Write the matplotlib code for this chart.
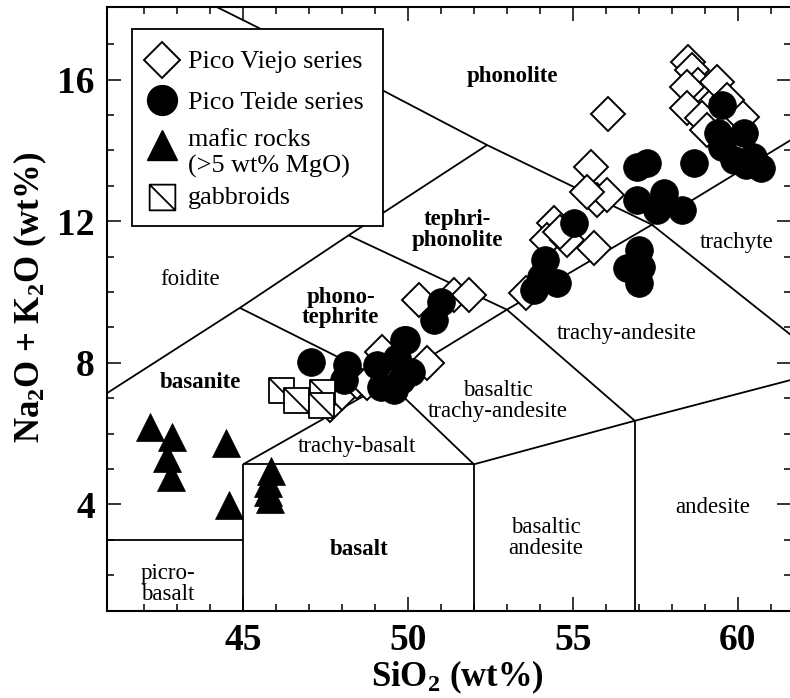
import matplotlib
matplotlib.use("Agg")
import matplotlib.pyplot as plt
from matplotlib.lines import Line2D
from matplotlib.patches import Rectangle
from matplotlib.path import Path
from matplotlib.ticker import FixedLocator

plt.rcParams['font.family'] = ['Liberation Serif', 'DejaVu Serif']
plt.rcParams['mathtext.fontset'] = 'custom'
plt.rcParams['mathtext.rm'] = 'Liberation Serif:bold'
plt.rcParams['mathtext.it'] = 'Liberation Serif:bold:italic'
plt.rcParams['mathtext.bf'] = 'Liberation Serif:bold'

# ---- sample data: SiO2 and total alkalis (wt%) ----
pv_sio2 = [58.48, 58.62, 58.79, 58.47, 59.38, 58.47, 58.93, 59.08, 60.14, 59.69,
           56.07, 55.56, 55.74, 56.05, 55.44,
           54.43, 54.23, 54.83, 55.64, 54.60,
           53.57, 50.33, 51.39, 51.85,
           47.65, 48.00, 48.45, 49.22, 48.77, 50.59]
pv_alk = [16.50, 16.27, 15.84, 15.80, 15.94, 15.19, 14.90, 14.57, 14.95, 15.42,
          15.03, 13.54, 12.60, 12.74, 12.83,
          11.94, 11.47, 11.47, 11.23, 11.70,
          9.96, 9.78, 9.91, 9.91,
          6.80, 7.15, 7.45, 8.31, 7.42, 7.98]

pt_sio2 = [59.54, 59.39, 60.18, 59.54, 60.48, 59.88, 60.70, 60.24,
           58.67, 57.26, 56.96, 56.96, 57.76, 57.56, 58.32,
           57.00, 57.06, 57.00, 56.65,
           55.03, 54.17, 54.02, 54.53, 53.82,
           51.00, 50.79, 49.93,
           47.05, 48.16, 49.07, 49.68, 49.78, 49.57, 48.06, 49.17, 50.08, 49.88]
pt_alk = [15.28, 14.49, 14.49, 14.10, 13.82, 13.73, 13.50, 13.59,
          13.63, 13.63, 13.54, 12.60, 12.79, 12.31, 12.31,
          11.18, 10.71, 10.24, 10.67,
          11.94, 10.90, 10.43, 10.24, 10.05,
          9.72, 9.21, 8.64,
          8.03, 7.94, 7.94, 8.12, 7.51, 7.23, 7.51, 7.32, 7.75, 8.64]

mafic_sio2 = [42.19, 42.85, 42.70, 42.80, 44.47, 44.57, 45.85, 45.75, 45.75, 45.80]
mafic_alk = [6.19, 5.91, 5.30, 4.78, 5.72, 3.98, 4.95, 4.60, 4.35, 4.15]

gab_sio2 = [46.15, 46.60, 47.40, 47.35]
gab_alk = [7.22, 6.95, 7.18, 6.80]

# ---- TAS field boundaries (SiO2, Na2O+K2O) ----
boundaries = [
    ([40.0, 45.0], [3.0, 3.0]),
    ([45.0, 45.0], [0.0, 5.13]),
    ([45.0, 52.0], [5.13, 5.13]),
    ([52.0, 52.0], [0.0, 5.13]),
    ([56.88, 56.88], [0.0, 6.36]),
    ([52.0, 56.88, 63.0], [5.13, 6.36, 7.85]),
    ([45.0, 49.4, 53.0, 57.4, 63.0], [5.13, 7.45, 9.5, 11.9, 15.08]),
    ([44.9, 49.4, 52.0], [9.55, 7.45, 5.13]),
    ([48.2, 53.0, 56.88], [11.6, 9.5, 6.36]),
    ([43.0, 44.2, 48.4, 52.4, 57.4, 63.0], [18.6, 18.05, 16.1, 14.15, 11.9, 7.76]),
    ([40.0, 44.9, 48.2, 52.4], [6.62, 9.55, 11.6, 14.15]),
]

field_labels = [
    ("phonolite", 53.16, 16.08, "bold"),
    ("tephri-\nphonolite", 51.51, 11.75, "bold"),
    ("phono-\ntephrite", 47.96, 9.55, "bold"),
    ("basanite", 43.70, 7.43, "bold"),
    ("basalt", 48.53, 2.71, "bold"),
    ("foidite", 43.38, 10.34, "normal"),
    ("trachyte", 59.97, 11.41, "normal"),
    ("trachy-andesite", 56.63, 8.82, "normal"),
    ("basaltic\ntrachy-andesite", 52.72, 6.92, "normal"),
    ("trachy-basalt", 48.44, 5.62, "normal"),
    ("basaltic\nandesite", 54.17, 3.05, "normal"),
    ("andesite", 59.24, 3.90, "normal"),
    ("picro-\nbasalt", 42.71, 1.75, "normal"),
]

# square with a diagonal, for the gabbroid symbol
gab_marker = Path(
    [(-1, 1), (1, 1), (1, -1), (-1, -1), (-1, 1), (-1, 1), (1, -1)],
    [Path.MOVETO, Path.LINETO, Path.LINETO, Path.LINETO, Path.CLOSEPOLY,
     Path.MOVETO, Path.LINETO])

W, H = 790, 698
fig = plt.figure(figsize=(W / 100, H / 100), dpi=100)
ax = fig.add_axes([107.3 / W, (H - 610.5) / H, 684.1 / W, 603.5 / H])
ax.set_xlim(40.88, 61.63)
ax.set_ylim(1.0, 18.05)

for xs, ys in boundaries:
    ax.plot(xs, ys, color='black', lw=1.3, zorder=2, solid_capstyle='butt')

for text, x, y, wt in field_labels:
    ax.text(x, y, text, ha='center', va='center', fontsize=16.5,
            fontweight=wt, linespacing=0.95, zorder=3)

ax.plot(pv_sio2, pv_alk, ls='none', marker='D', ms=17.5, mfc='white',
        mec='black', mew=1.4, zorder=4)
ax.plot(pt_sio2, pt_alk, ls='none', marker='o', ms=20, mfc='black',
        mec='black', mew=0.5, zorder=5)
ax.plot(gab_sio2, gab_alk, ls='none', marker=gab_marker, ms=18, mfc='white',
        mec='black', mew=1.3, zorder=6)
ax.plot(mafic_sio2, mafic_alk, ls='none', marker='^', ms=19.5, mfc='black',
        mec='black', mew=0.5, zorder=6)

ax.set_xticks([45, 50, 55, 60])
ax.xaxis.set_minor_locator(FixedLocator([x for x in range(42, 62) if x % 5]))
ax.set_yticks([4, 8, 12, 16])
ax.yaxis.set_minor_locator(FixedLocator([y for y in range(2, 18) if y % 4]))
ax.tick_params(which='both', direction='in', top=True, right=True, width=1.1)
ax.tick_params(which='major', length=10, labelsize=27, pad=9)
ax.tick_params(which='minor', length=5)
for lab in ax.get_xticklabels() + ax.get_yticklabels():
    lab.set_fontweight('bold')
for sp in ax.spines.values():
    sp.set_linewidth(1.5)

ax.set_xlabel('SiO$_2$ (wt%)', fontsize=25, fontweight='bold')
ax.set_ylabel('Na$_2$O + K$_2$O (wt%)', fontsize=25, fontweight='bold')
ax.xaxis.set_label_coords(0.512, -0.08)
ax.yaxis.set_label_coords(-0.085, 0.518)


# ---- legend box, laid out in figure pixels ----
def fx(px):
    return px / W


def fy(py):
    return 1 - py / H


fig.add_artist(Rectangle((fx(132), fy(226)), fx(383) - fx(132), fy(29) - fy(226),
                         transform=fig.transFigure, facecolor='white',
                         edgecolor='black', linewidth=1.3, zorder=10))

legend_rows = [
    (dict(marker='D', ms=18.8, mfc='white', mec='black', mew=1.4), 60,
     'Pico Viejo series', 68),
    (dict(marker='o', ms=21.5, mfc='black', mec='black'), 100,
     'Pico Teide series', 109),
    (dict(marker='^', ms=21, mfc='black', mec='black'), 145,
     'mafic rocks', 146),
    (None, None, '(>5 wt% MgO)', 173),
    (dict(marker=gab_marker, ms=18.5, mfc='white', mec='black', mew=1.3), 197,
     'gabbroids', 204),
]
for style, my, label, base in legend_rows:
    if style is not None:
        fig.add_artist(Line2D([fx(161.7)], [fy(my)], ls='none',
                              transform=fig.transFigure, zorder=11, **style))
    fig.text(fx(188), fy(base), label, fontsize=18.8, ha='left', va='baseline',
             zorder=11)

fig.savefig('out.png', dpi=100)
